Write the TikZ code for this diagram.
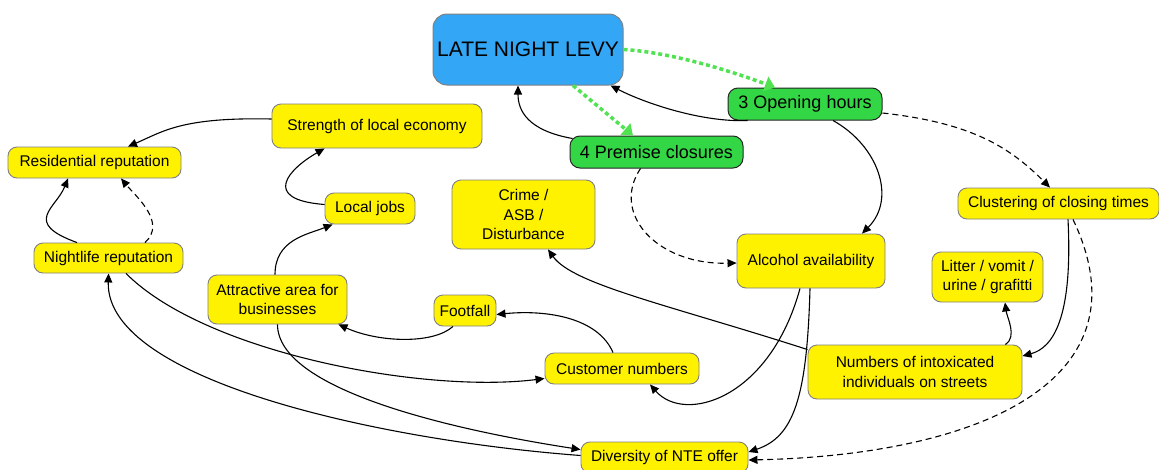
\documentclass[tikz,border=0pt]{standalone}
\usepackage{fontspec}
\setmainfont{Liberation Sans}
\usepackage{tikz}
\usetikzlibrary{arrows.meta}
\definecolor{levyblue}{RGB}{51,166,245}
\definecolor{levergreen}{RGB}{51,214,68}
\definecolor{dotgreen}{RGB}{80,226,80}
\tikzset{
    factor/.style={draw=gray, fill=yellow, rounded corners=9pt, line width=0.9pt, inner sep=0pt, align=center, font=\fontsize{15.5}{19.5}\selectfont},
    lever/.style={draw=black!85, fill=levergreen, rounded corners=10pt, line width=1pt, inner sep=0pt, font=\fontsize{18}{21}\selectfont},
    levy/.style={draw=gray, fill=levyblue, rounded corners=14pt, line width=1pt, inner sep=0pt, font=\fontsize{21}{24}\selectfont},
    cause/.style={-{Triangle[length=9pt,width=8pt]}, line width=1.1pt},
    maybe/.style={cause, dash pattern=on 6pt off 4pt},
    push/.style={-{Triangle[length=10pt,width=15pt]}, dotgreen, line width=3.5pt, dash pattern=on 4pt off 3pt}
}

\begin{document}
\begin{tikzpicture}[x=1pt,y=-1pt]
			\useasboundingbox (0,0) rectangle (1159,469);
			\node[levy, minimum width=190pt, minimum height=71pt] (lnl) at (528,49.5) {LATE NIGHT LEVY};
			\node[lever, minimum width=154pt, minimum height=32pt] (hours) at (805,104) {3 Opening hours};
			\node[lever, minimum width=173pt, minimum height=32pt] (closures) at (656.5,152) {4 Premise closures};
			\node[factor, minimum width=210pt, minimum height=44pt] (economy) at (377,126) {Strength of local economy};
			\node[factor, minimum width=173pt, minimum height=31pt] (resrep) at (94.5,162.5) {Residential reputation};
			\node[factor, minimum width=90pt, minimum height=31pt] (jobs) at (370,208.5) {Local jobs};
			\node[factor, minimum width=149pt, minimum height=30pt] (nightrep) at (108.5,258) {Nightlife reputation};
			\node[factor, minimum width=143pt, minimum height=69pt] (crime) at (523.5,214.5) {Crime /\\ASB /\\Disturbance};
			\node[factor, minimum width=148pt, minimum height=54pt] (alcohol) at (811,261) {Alcohol availability};
			\node[factor, minimum width=201pt, minimum height=31pt] (cluster) at (1058.5,203.5) {Clustering of closing times};
			\node[factor, minimum width=111pt, minimum height=50pt] (litter) at (987.5,277) {Litter / vomit /\\urine / grafitti};
			\node[factor, minimum width=139pt, minimum height=49pt] (attract) at (277.5,299.5) {Attractive area for\\businesses};
			\node[factor, minimum width=62pt, minimum height=31pt] (footfall) at (465,310.5) {Footfall};
			\node[factor, minimum width=154pt, minimum height=31pt] (customers) at (622,368.5) {Customer numbers};
			\node[factor, minimum width=214pt, minimum height=54pt] (intox) at (915,372) {Numbers of intoxicated\\individuals on streets};
			\node[factor, minimum width=167pt, minimum height=31pt] (diversity) at (664.5,457.5) {Diversity of NTE offer};

			\draw[push] (lnl.east) .. controls +(50,3) and +(-40,-15) .. ([xshift=-30pt]hours.north);
			\draw[push] ([xshift=45pt]lnl.south) -- ([xshift=-23.5pt]closures.north);
			\draw[cause] ([xshift=20pt]hours.south west) .. controls +(-45,2) and +(35,18) .. ([xshift=-13pt]lnl.south east);
			\draw[cause] ([xshift=3pt,yshift=-3pt]closures.north west) .. controls +(-45,-8) and +(0,25) .. ([xshift=-10pt]lnl.south);
			\draw[maybe] ([yshift=-9pt]hours.east) .. controls +(90,10) and +(-40,-40) .. ([xshift=-8.5pt]cluster.north);
			\draw[cause] ([xshift=28pt]hours.south) .. controls +(45,25) and +(35,-35) .. ([xshift=51pt]alcohol.north);
			\draw[maybe] ([xshift=-16pt]closures.south) .. controls +(-30,45) and +(-80,2) .. ([yshift=-2pt]alcohol.west);
			\draw[cause] ([yshift=7pt]economy.west) .. controls +(-90,-2) and +(35,-15) .. ([xshift=33.5pt]resrep.north);
			\draw[cause] ([yshift=4pt]jobs.west) .. controls +(-65,-5) and +(-35,20) .. ([xshift=53pt]economy.south west);
			\draw[cause] ([xshift=-2.5pt]attract.north) .. controls +(0,-35) and +(-25,10) .. ([xshift=8pt]jobs.south west);
			\draw[cause] ([xshift=-31.5pt]nightrep.north) .. controls +(-55,-20) and +(-12,30) .. ([xshift=-26.5pt]resrep.south);
			\draw[maybe] ([xshift=36.5pt]nightrep.north) .. controls +(22,-20) and +(15,18) .. ([xshift=26.5pt]resrep.south);
			\draw[cause] ([xshift=17.5pt]nightrep.south) .. controls +(80,80) and +(-120,15) .. ([yshift=-10pt]customers.west);
			\draw[cause] ([yshift=2pt]diversity.west) .. controls +(-200,-15) and +(-3,107) .. (nightrep.south);
			\draw[cause] (attract.south) .. controls +(0,65) and +(-130,-20) .. ([yshift=-8pt]diversity.north west);
			\draw[cause] ([xshift=-12pt]footfall.south) .. controls +(-20,18) and +(40,18) .. ([xshift=-9pt]attract.south east);
			\draw[cause] ([xshift=-9pt]customers.north) .. controls +(-15,-35) and +(50,-5) .. ([yshift=-4pt]footfall.east);
			\draw[cause] ([xshift=-11pt]alcohol.south) .. controls +(-30,110) and +(35,40) .. ([xshift=28pt]customers.south);
			\draw[cause] ([xshift=-1pt]alcohol.south) .. controls +(-3,110) and +(45,-15) .. ([yshift=5.5pt]diversity.east);
			\draw[cause] ([yshift=-5pt]intox.north west) .. controls +(-140,-45) and +(25,35) .. ([xshift=24.5pt]crime.south);
			\draw[cause] ([xshift=-17pt]intox.north east) .. controls +(12,-8) and +(2,15) .. ([xshift=17.5pt]litter.south);
			\draw[cause] ([xshift=9.5pt]cluster.south) .. controls +(5,100) and +(30,-8) .. ([yshift=16pt]intox.east);
			\draw[maybe] ([xshift=14.5pt]cluster.south) .. controls +(77,161) and +(232,-5) .. ([yshift=-2.5pt]diversity.east);
		\end{tikzpicture}
\end{document}
